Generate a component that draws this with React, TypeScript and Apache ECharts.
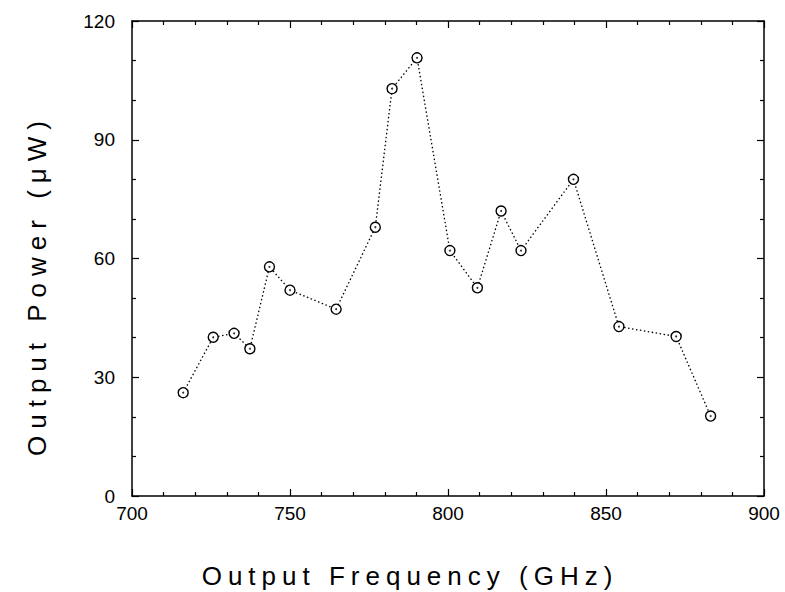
import React, { useEffect, useRef } from "react";
import * as echarts from "echarts";

const frequencies = [716.2, 725.7, 732.3, 737.3, 743.5, 750.0, 764.6, 777.0, 782.3, 790.2, 800.6, 809.3, 816.8, 823.1, 839.7, 854.1, 872.2, 883.1];
const powers = [26.1, 40.1, 41.1, 37.2, 57.9, 52.0, 47.2, 67.9, 102.9, 110.7, 62.0, 52.6, 72.0, 62.0, 80.0, 42.8, 40.3, 20.2];
const xTitle = "Output Frequency (GHz)";
const yTitle = "Output Power (\u03bcW)";

const FONT = "'Liberation Sans', Arial, sans-serif";

export default function App() {
  const ref = useRef<HTMLDivElement>(null);
  useEffect(() => {
    if (!ref.current) return;
    const chart = echarts.init(ref.current, null, { renderer: "svg" });
    const pts = frequencies.map((f, i) => [f, powers[i]]);
    const tickCommon = (len: number) => ({ show: true, inside: true, length: len, lineStyle: { color: "#000", width: 1.2 } });
    const minor = (n: number) => ({ show: true, splitNumber: n, length: 4, lineStyle: { color: "#000", width: 1.2 } });
    const axisLine = { show: true, onZero: false, lineStyle: { color: "#000", width: 1.5 } };
    chart.setOption({
      animation: false,
      backgroundColor: "#fff",
      grid: { left: 132, right: 21, top: 21, bottom: 96, containLabel: false },
      xAxis: [
        {
          type: "value", min: 700, max: 900, interval: 50, position: "bottom",
          axisLine, axisTick: tickCommon(7), minorTick: minor(5),
          splitLine: { show: false },
          axisLabel: { color: "#000", fontFamily: FONT, fontSize: 19, margin: 8 },
        },
        {
          type: "value", min: 700, max: 900, interval: 50, position: "top",
          axisLine, axisTick: tickCommon(7), minorTick: minor(5),
          splitLine: { show: false }, axisLabel: { show: false },
        },
      ],
      yAxis: [
        {
          type: "value", min: 0, max: 120, interval: 30, position: "left",
          axisLine, axisTick: tickCommon(7), minorTick: minor(3),
          splitLine: { show: false },
          axisLabel: { color: "#000", fontFamily: FONT, fontSize: 19, margin: 17 },
        },
        {
          type: "value", min: 0, max: 120, interval: 30, position: "right",
          axisLine, axisTick: tickCommon(7), minorTick: minor(3),
          splitLine: { show: false }, axisLabel: { show: false },
        },
      ],
      graphic: [
        {
          type: "text", x: 410, y: 576,
          style: { text: xTitle, fontFamily: FONT, fontSize: 26, fill: "#000", align: "center", verticalAlign: "middle" },
        },
        {
          type: "text", x: 37, y: 285, rotation: Math.PI / 2,
          style: { text: yTitle, fontFamily: FONT, fontSize: 26, fill: "#000", align: "center", verticalAlign: "middle" },
        },
      ],
      series: [
        {
          type: "line", data: pts, xAxisIndex: 0, yAxisIndex: 0,
          symbol: "circle", symbolSize: 10, showSymbol: true,
          lineStyle: { color: "#000", width: 1.3, type: [1.5, 2.5] },
          itemStyle: { color: "#fff", borderColor: "#000", borderWidth: 1.4 },
          z: 2,
        },
        {
          type: "scatter", data: pts, xAxisIndex: 0, yAxisIndex: 0,
          symbol: "circle", symbolSize: 2, itemStyle: { color: "#000" }, z: 3,
        },
      ],
    });
    const spacing: Record<string, string> = { [xTitle]: "6px", [yTitle]: "7px" };
    ref.current.querySelectorAll("text").forEach((t) => {
      const s = spacing[t.textContent || ""];
      if (s) t.style.letterSpacing = s;
    });
    return () => chart.dispose();
  }, []);
  return <div ref={ref} style={{ width: 785, height: 592, position: "absolute", left: 0, top: 0 }} />;
}
